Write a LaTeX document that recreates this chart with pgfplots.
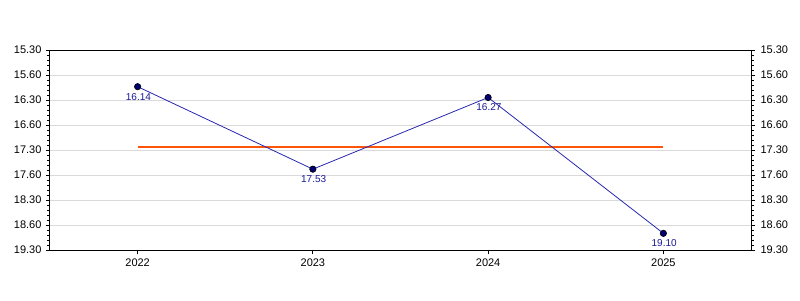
\documentclass[border=0pt]{standalone}
\usepackage{fontspec}
\setmainfont{Liberation Sans}
\usepackage{pgfplots}
\pgfplotsset{compat=1.18}
\definecolor{serieblue}{RGB}{40,40,175}
\definecolor{markfill}{RGB}{0,0,110}
\definecolor{labblue}{RGB}{25,25,150}
\definecolor{avgorange}{RGB}{255,85,10}
\definecolor{gridgray}{RGB}{218,218,218}
\begin{document}
\begin{tikzpicture}
\path[use as bounding box] (-50pt,-50pt) rectangle (750pt,250pt);
\pgfplotsset{
  common/.style={
    scale only axis, width=701pt, height=200pt,
    at={(0pt,0pt)}, anchor=south west,
    xmin=-0.5, xmax=3.5,
    ymin=15.5, ymax=19.5, y dir=reverse,
    ytick={15.5,16,16.5,17,17.5,18,18.5,19,19.5},
    yticklabels={15.30,15.60,16.30,16.60,17.30,17.60,18.30,18.60,19.30},
    minor y tick num=4,
    tick align=outside,
    major tick length=4pt, minor tick length=3pt,
    tick style={black, line width=0.8pt},
    axis line style={black, line width=1pt},
    tick label style={font=\fontsize{11}{13}\selectfont},
    /pgf/number format/assume math mode=true,
  }
}
\begin{axis}[common,
  axis y line*=right, axis x line=none,
  yticklabel pos=right, ytick pos=right,
  yticklabel style={xshift=2pt},
]
\addplot[draw=none] coordinates {(0,16)};
\end{axis}
\begin{axis}[common,
  ytick pos=left, yticklabel pos=left,
  xtick={0,1,2,3}, xticklabels={2022,2023,2024,2025},
  xtick pos=bottom,
  xticklabel style={yshift=-1.5pt},
  ymajorgrids, grid style={gridgray, line width=0.8pt},
  clip=false,
  yticklabel style={xshift=-1pt},
]
\addplot[avgorange, line width=2pt, forget plot] coordinates {(0,17.4333) (3,17.4333)};
\addplot[serieblue, line width=0.8pt,
  mark=*, mark size=3.2pt, mark options={fill=markfill, draw=black, line width=0.6pt},
  point meta=explicit symbolic,
  nodes near coords,
  every node near coord/.append style={anchor=center, yshift=-10pt, xshift=0.8pt, inner sep=0pt, text=labblue, font=\fontsize{10}{12}\selectfont},
] table[meta=lab] {
x y lab
0 16.2333 16.14
1 17.8833 17.53
2 16.45 16.27
3 19.1667 19.10
};
\end{axis}
\end{tikzpicture}
\end{document}
